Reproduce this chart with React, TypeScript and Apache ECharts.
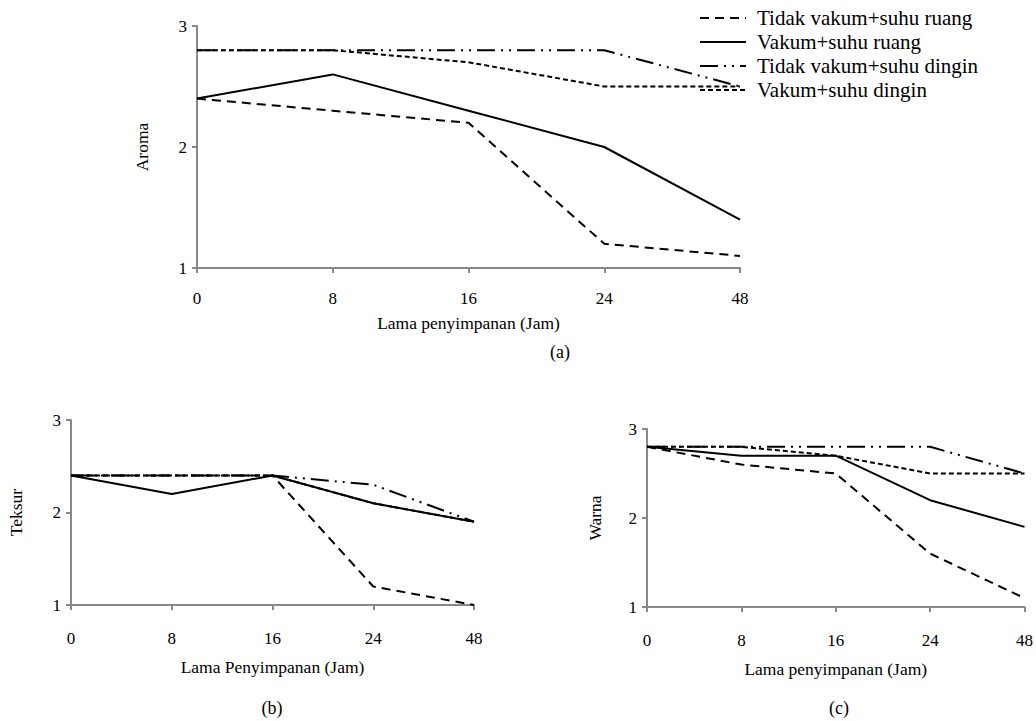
import { useEffect, useRef } from "react";
import * as echarts from "echarts";

const hours = ["0", "8", "16", "24", "48"];
const yTicks = [1, 2, 3];
const seriesNames = [
  "Tidak vakum+suhu ruang",
  "Vakum+suhu ruang",
  "Tidak vakum+suhu dingin",
  "Vakum+suhu dingin",
];

// Panel (a) Aroma
const aromaTVRuang = [2.4, 2.3, 2.2, 1.2, 1.1];
const aromaVRuang = [2.4, 2.6, 2.3, 2.0, 1.4];
const aromaTVDingin = [2.8, 2.8, 2.8, 2.8, 2.5];
const aromaVDingin = [2.8, 2.8, 2.7, 2.5, 2.5];

// Panel (b) Teksur
const teksurTVRuang = [2.4, 2.4, 2.4, 1.2, 1.0];
const teksurVRuang = [2.4, 2.2, 2.4, 2.1, 1.9];
const teksurTVDingin = [2.4, 2.4, 2.4, 2.3, 1.9];
const teksurVDingin = [2.4, 2.4, 2.4, 2.1, 1.9];

// Panel (c) Warna
const warnaTVRuang = [2.8, 2.6, 2.5, 1.6, 1.1];
const warnaVRuang = [2.8, 2.7, 2.7, 2.2, 1.9];
const warnaTVDingin = [2.8, 2.8, 2.8, 2.8, 2.5];
const warnaVDingin = [2.8, 2.8, 2.7, 2.5, 2.5];

const panelLabels = ["(a)", "(b)", "(c)"];
const yNames = ["Aroma", "Teksur", "Warna"];
const xNames = ["Lama penyimpanan (Jam)", "Lama Penyimpanan (Jam)", "Lama penyimpanan (Jam)"];

const FONT = "Liberation Serif, Times New Roman, serif";

const lineTypes: any[] = [
  [9, 6],
  "solid",
  [18, 6, 2, 6, 2, 6],
  [5, 3],
];
const legendDashes: any[] = [
  [9, 6],
  null,
  [18, 6, 2, 6, 2, 6],
  [5, 3],
];

export default function App() {
  const ref = useRef<HTMLDivElement>(null);
  useEffect(() => {
    if (!ref.current) return;
    const chart = echarts.init(ref.current, undefined, { renderer: "svg" });

    const grids = [
      { left: 197, top: 26, width: 543, height: 242 },
      { left: 71, top: 420, width: 403, height: 185 },
      { left: 647, top: 429, width: 379, height: 178 },
    ];
    const labelMargins = [22, 25, 25];
    const nameGapsX = [46, 53, 53];
    const nameGapsY = [46, 46, 43];

    const panels = [
      [aromaTVRuang, aromaVRuang, aromaTVDingin, aromaVDingin],
      [teksurTVRuang, teksurVRuang, teksurTVDingin, teksurVDingin],
      [warnaTVRuang, warnaVRuang, warnaTVDingin, warnaVDingin],
    ];

    const axisLine = { show: true, lineStyle: { color: "#888", width: 2 } };

    const xAxis = grids.map((_, i) => ({
      type: "category",
      gridIndex: i,
      data: hours,
      boundaryGap: false,
      axisLine,
      axisTick: { show: true, length: 5, lineStyle: { color: "#888", width: 2 } },
      axisLabel: { color: "#000", fontFamily: FONT, fontSize: 17, margin: labelMargins[i] },
      name: xNames[i],
      nameLocation: "middle",
      nameGap: nameGapsX[i],
      nameTextStyle: { color: "#000", fontFamily: FONT, fontSize: 17.5 },
      splitLine: { show: false },
    }));

    const yAxis = grids.map((_, i) => ({
      type: "value",
      gridIndex: i,
      min: yTicks[0],
      max: yTicks[yTicks.length - 1],
      interval: 1,
      axisLine,
      axisTick: { show: true, length: 5, lineStyle: { color: "#888", width: 2 } },
      axisLabel: { color: "#000", fontFamily: FONT, fontSize: 17, margin: 10 },
      name: yNames[i],
      nameLocation: "middle",
      nameGap: nameGapsY[i],
      nameRotate: 90,
      nameTextStyle: { color: "#000", fontFamily: FONT, fontSize: 17.5 },
      splitLine: { show: false },
    }));

    const series: any[] = [];
    panels.forEach((arrs, p) => {
      arrs.forEach((arr, s) => {
        series.push({
          type: "line",
          name: seriesNames[s],
          xAxisIndex: p,
          yAxisIndex: p,
          data: arr,
          symbol: "none",
          lineStyle: { color: "#000", width: 2, type: lineTypes[s] },
          itemStyle: { color: "#000" },
        });
      });
    });

    const legendTop = 18;
    const legendStep = 24;
    const legendGraphics: any[] = [];
    seriesNames.forEach((name, i) => {
      const y = legendTop + i * legendStep;
      legendGraphics.push({
        type: "line",
        shape: { x1: 700, y1: y, x2: 746, y2: y },
        style: { stroke: "#000", lineWidth: 2, lineDash: legendDashes[i] },
      });
      legendGraphics.push({
        type: "text",
        x: 757,
        y,
        style: { text: name, fill: "#000", font: `21px ${FONT}`, textAlign: "left", textVerticalAlign: "middle" },
      });
    });

    chart.setOption({
      animation: false,
      backgroundColor: "#fff",
      grid: grids,
      xAxis,
      yAxis,
      series,
      graphic: [
        ...legendGraphics,
        { type: "text", x: 560, y: 352, style: { text: panelLabels[0], fill: "#000", font: `18px ${FONT}`, textAlign: "center", textVerticalAlign: "middle" } },
        { type: "text", x: 272, y: 708, style: { text: panelLabels[1], fill: "#000", font: `18px ${FONT}`, textAlign: "center", textVerticalAlign: "middle" } },
        { type: "text", x: 839, y: 708, style: { text: panelLabels[2], fill: "#000", font: `18px ${FONT}`, textAlign: "center", textVerticalAlign: "middle" } },
      ],
    });
    return () => chart.dispose();
  }, []);
  return (
    <div
      ref={ref}
      style={{ position: "fixed", left: 0, top: 0, width: 1036, height: 721, background: "#fff" }}
    />
  );
}
